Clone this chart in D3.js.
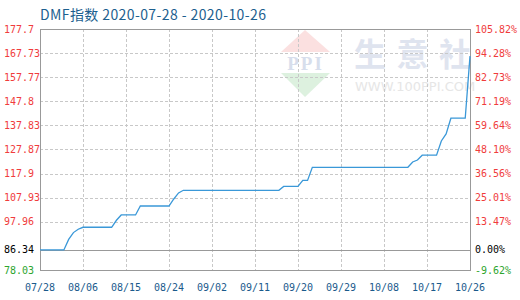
<!DOCTYPE html>
<html>
<head>
<meta charset="utf-8">
<script src="https://cdn.jsdelivr.net/npm/d3@7/dist/d3.min.js"></script>
<style>
  html, body { margin: 0; padding: 0; background: #fff; }
  svg { display: block; }
</style>
</head>
<body>
<svg id="chart" width="520" height="300"></svg>
<script>
// DMF price index, daily observations
const dates = ["2020-07-28","2020-08-02","2020-08-03","2020-08-04","2020-08-05","2020-08-06",
  "2020-08-12","2020-08-13","2020-08-14","2020-08-17","2020-08-18","2020-08-24","2020-08-25",
  "2020-08-26","2020-08-27","2020-09-16","2020-09-17","2020-09-20","2020-09-21","2020-09-22",
  "2020-09-23","2020-10-13","2020-10-14","2020-10-15","2020-10-16","2020-10-19","2020-10-20",
  "2020-10-21","2020-10-22","2020-10-25","2020-10-26"];
const values = [86.34,86.34,90.7,93.5,94.9,95.7,
  95.7,98.6,100.8,100.8,104.5,104.5,107.4,
  109.9,111.0,111.0,112.6,112.6,115.1,115.1,
  120.5,120.5,122.7,123.5,125.5,125.5,131.4,
  134.3,140.8,140.8,166.5];

const baseValue = 86.34;
const leftTicks = [78.03, 86.34, 97.96, 107.93, 117.9, 127.87, 137.83, 147.8, 157.77, 167.73, 177.7];
const leftLabels = ["78.03","86.34","97.96","107.93","117.9","127.87","137.83","147.8","157.77","167.73","177.7"];
const rightLabels = ["-9.62%","0.00%","13.47%","25.01%","36.56%","48.10%","59.64%","71.19%","82.73%","94.28%","105.82%"];
const xTickLabels = ["07/28","08/06","08/15","08/24","09/02","09/11","09/20","09/29","10/08","10/17","10/26"];
const xTickDates = ["2020-07-28","2020-08-06","2020-08-15","2020-08-24","2020-09-02","2020-09-11",
  "2020-09-20","2020-09-29","2020-10-08","2020-10-17","2020-10-26"];
const title = "DMF指数 2020-07-28 - 2020-10-26";
const brandChars = ["生", "意", "社"];

const parse = d3.utcParse("%Y-%m-%d");
const plotLeft = 40, plotRight = 470, plotTop = 29, plotBottom = 270;

const x = d3.scaleUtc()
  .domain([parse("2020-07-28"), parse("2020-10-26")])
  .range([plotLeft, plotRight]);
const y = d3.scaleLinear()
  .domain([78.03, 177.7])
  .range([plotBottom, plotTop]);

const svg = d3.select("#chart");
const mono = "'DejaVu Sans Mono', 'Liberation Mono', monospace";

// watermark
const wm = svg.append("g");
wm.append("path")
  .attr("d", "M305,30 L330,52 L281,52 Z")
  .attr("fill", "#fbe0e0");
wm.append("path")
  .attr("d", "M281,73 L330,73 L305,97 Z")
  .attr("fill", "#ddf1df");
wm.append("text")
  .attr("x", 305.5).attr("y", 69.5)
  .attr("text-anchor", "middle")
  .attr("font-family", "'Liberation Serif', serif")
  .attr("font-size", 19).attr("font-weight", "bold")
  .attr("letter-spacing", 2)
  .attr("fill", "#d7deec")
  .text("PPI");
wm.selectAll("text.brand")
  .data(brandChars)
  .join("text")
  .attr("class", "brand")
  .attr("x", (d, i) => 370 + i * 42.5)
  .attr("y", 66)
  .attr("text-anchor", "middle")
  .attr("font-family", "'Noto Sans CJK SC', sans-serif")
  .attr("font-size", 32).attr("font-weight", "bold")
  .attr("fill", "#dfe4ef")
  .text(d => d);
wm.append("text")
  .attr("x", 355).attr("y", 91)
  .attr("font-family", "'DejaVu Sans', sans-serif")
  .attr("font-size", 13)
  .attr("fill", "#e6e6e6")
  .text("WWW.100PPI.COM");

// grid
const grid = svg.append("g")
  .attr("stroke", "#c8c8c8")
  .attr("stroke-width", 1)
  .attr("stroke-dasharray", "3,2")
  .attr("shape-rendering", "crispEdges");
grid.selectAll("line.h")
  .data(leftTicks.filter(v => v !== 78.03 && v !== 177.7 && v !== baseValue))
  .join("line")
  .attr("class", "h")
  .attr("x1", plotLeft).attr("x2", plotRight)
  .attr("y1", d => Math.round(y(d)) + 0.5)
  .attr("y2", d => Math.round(y(d)) + 0.5);
grid.selectAll("line.v")
  .data(xTickDates.slice(1, -1))
  .join("line")
  .attr("class", "v")
  .attr("x1", d => Math.round(x(parse(d))) + 0.5)
  .attr("x2", d => Math.round(x(parse(d))) + 0.5)
  .attr("y1", plotTop).attr("y2", plotBottom);

// base line
svg.append("line")
  .attr("x1", plotLeft).attr("x2", plotRight)
  .attr("y1", Math.round(y(baseValue)) + 0.5)
  .attr("y2", Math.round(y(baseValue)) + 0.5)
  .attr("stroke", "#999").attr("shape-rendering", "crispEdges");

// frame
svg.append("rect")
  .attr("x", plotLeft + 0.5).attr("y", plotTop + 0.5)
  .attr("width", plotRight - plotLeft).attr("height", plotBottom - plotTop)
  .attr("fill", "none")
  .attr("stroke", "#999")
  .attr("shape-rendering", "crispEdges");

// series line
const points = dates.map((d, i) => [parse(d), values[i]]);
svg.append("path")
  .datum(points)
  .attr("fill", "none")
  .attr("stroke", "#3a98d8")
  .attr("stroke-width", 1.3)
  .attr("d", d3.line().x(d => x(d[0])).y(d => y(d[1])));

// axis labels
function labelColor(v) {
  if (v === baseValue) return "#000";
  if (v < baseValue) return "#2ea52e";
  return "#f03c3c";
}
svg.append("g").selectAll("text")
  .data(leftTicks)
  .join("text")
  .attr("x", 4)
  .attr("y", d => y(d))
  .attr("dy", "0.35em")
  .attr("font-family", mono)
  .attr("font-size", 10)
  .attr("fill", d => labelColor(d))
  .text((d, i) => leftLabels[i]);
svg.append("g").selectAll("text")
  .data(leftTicks)
  .join("text")
  .attr("x", 475)
  .attr("y", d => y(d))
  .attr("dy", "0.35em")
  .attr("font-family", mono)
  .attr("font-size", 10)
  .attr("fill", d => labelColor(d))
  .text((d, i) => rightLabels[i]);
svg.append("g").selectAll("text")
  .data(xTickDates)
  .join("text")
  .attr("x", d => x(parse(d)))
  .attr("y", 291)
  .attr("text-anchor", "middle")
  .attr("font-family", mono)
  .attr("font-size", 10)
  .attr("fill", "#1a5a8c")
  .text((d, i) => xTickLabels[i]);

// title
svg.append("text")
  .attr("x", 40).attr("y", 19.5)
  .attr("font-family", "'Noto Sans CJK SC', 'Noto Sans', sans-serif")
  .attr("font-size", 14)
  .attr("letter-spacing", 0.4)
  .attr("fill", "#1d5f8f")
  .text(title);
</script>
</body>
</html>
